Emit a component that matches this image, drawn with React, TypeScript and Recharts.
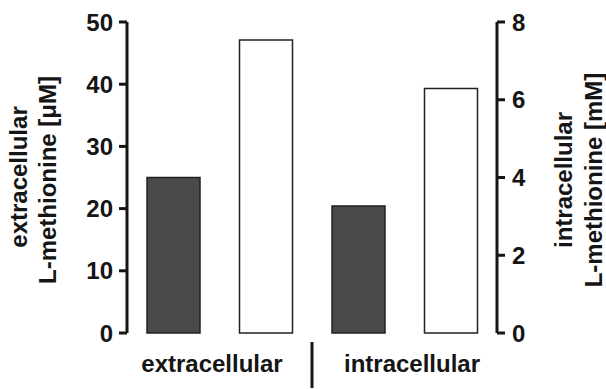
import React from 'react';
import { BarChart, Bar, Cell, XAxis, YAxis } from 'recharts';

// four bars: two conditions for each compartment
const categories = ['extracellular-1', 'extracellular-2', 'intracellular-1', 'intracellular-2'];
const conditions = ['dark', 'light', 'dark', 'light'];
const extracellularUM = [25.0, 47.1, null, null];
const intracellularMM = [null, null, 3.27, 6.29];
const leftTicks = [0, 10, 20, 30, 40, 50];
const rightTicks = [0, 2, 4, 6, 8];
const groupLabels = ['extracellular', 'intracellular'];

const FILL: Record<string, string> = { dark: '#484a49', light: '#ffffff' };
const INK = '#151515';
const FONT = '"Liberation Sans", Arial, Helvetica, sans-serif';

const data = categories.map((name, i) => ({
  name,
  condition: conditions[i],
  ext: extracellularUM[i],
  int: intracellularMM[i],
}));

const tickStyle = { fill: INK, fontSize: 24, fontWeight: 700, fontFamily: FONT };
const axisLine = { stroke: INK, strokeWidth: 3 };

export default function App() {
  return (
    <div style={{ position: 'absolute', left: 0, top: 0, width: 606, height: 389, background: '#fff' }}>
      <BarChart
        width={606}
        height={389}
        data={data}
        margin={{ top: 22, right: 39, bottom: 56, left: 60 }}
      >
        <XAxis xAxisId="a" dataKey="name" tick={false} tickLine={false} axisLine={axisLine} height={0} />
        <XAxis xAxisId="b" dataKey="name" hide />
        <YAxis
          yAxisId="left"
          orientation="left"
          width={67}
          domain={[0, 50]}
          ticks={leftTicks}
          interval={0}
          tick={tickStyle}
          tickSize={8}
          tickMargin={6}
          tickLine={axisLine}
          axisLine={axisLine}
        />
        <YAxis
          yAxisId="right"
          orientation="right"
          width={70}
          domain={[0, 8]}
          ticks={rightTicks}
          interval={0}
          tick={tickStyle}
          tickSize={8}
          tickMargin={7}
          tickLine={axisLine}
          axisLine={axisLine}
        />
        <Bar xAxisId="a" yAxisId="left" dataKey="ext" barSize={53} stroke="#222" strokeWidth={1.5} isAnimationActive={false}>
          {data.map((d, i) => (
            <Cell key={`ext-${i}`} fill={FILL[d.condition]} />
          ))}
        </Bar>
        <Bar xAxisId="b" yAxisId="right" dataKey="int" barSize={53} stroke="#222" strokeWidth={1.5} isAnimationActive={false}>
          {data.map((d, i) => (
            <Cell key={`int-${i}`} fill={FILL[d.condition]} />
          ))}
        </Bar>
      </BarChart>
      <svg
        width={606}
        height={389}
        style={{ position: 'absolute', left: 0, top: 0, pointerEvents: 'none' }}
        fontFamily={FONT}
        fontWeight={700}
        fontSize={24}
        fill={INK}
      >
        <g transform="translate(18,177) rotate(-90)">
          <text textAnchor="middle" dominantBaseline="central">extracellular</text>
        </g>
        <g transform="translate(47,180) rotate(-90)">
          <text textAnchor="middle" dominantBaseline="central">L-methionine [μM]</text>
        </g>
        <g transform="translate(563,180) rotate(-90)">
          <text textAnchor="middle" dominantBaseline="central">intracellular</text>
        </g>
        <g transform="translate(593,180) rotate(-90)">
          <text textAnchor="middle" dominantBaseline="central">L-methionine [mM]</text>
        </g>
        <text x={212} y={363} textAnchor="middle" dominantBaseline="central">{groupLabels[0]}</text>
        <text x={412} y={363} textAnchor="middle" dominantBaseline="central">{groupLabels[1]}</text>
        <line x1={312} y1={342} x2={312} y2={388} stroke={INK} strokeWidth={3} />
      </svg>
    </div>
  );
}
